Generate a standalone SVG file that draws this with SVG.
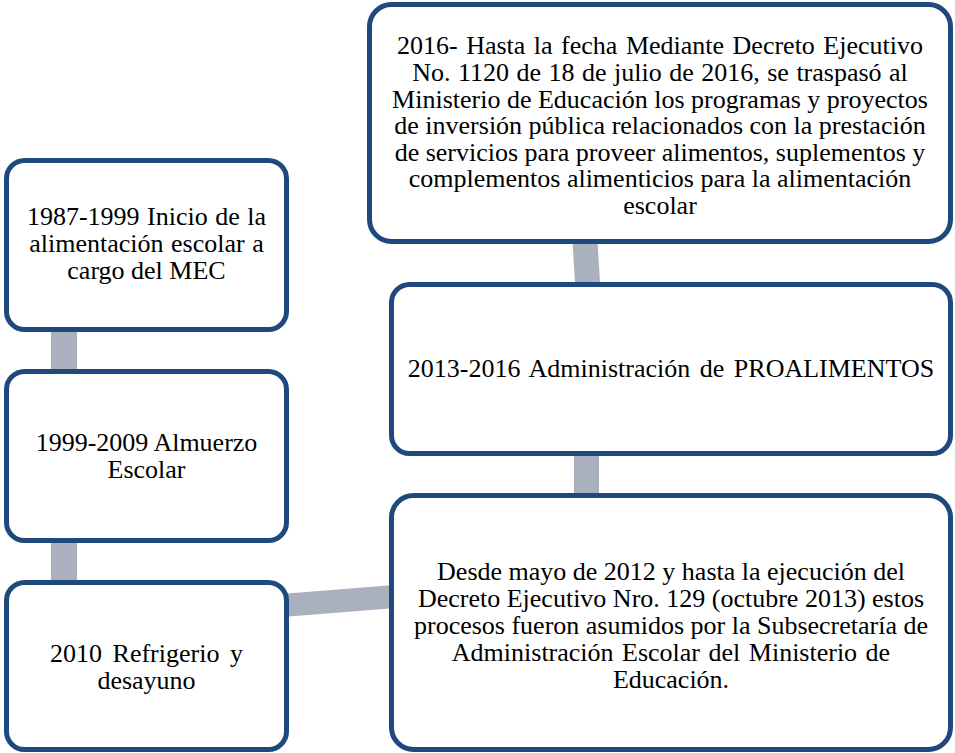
<svg xmlns="http://www.w3.org/2000/svg" width="955" height="753" viewBox="0 0 955 753">
<style>
.box{fill:#ffffff;stroke:#1f497d;stroke-width:5}
.con{stroke:#aab0bd;fill:none;stroke-linecap:butt}
.t{font-family:'Liberation Serif','Times New Roman',Tinos,'DejaVu Serif',serif;font-size:26px;fill:#000000;text-anchor:middle}
</style>
<rect width="955" height="753" fill="#ffffff"/>
<g id="connectors">
<line class="con" x1="64" y1="325" x2="64" y2="376" stroke-width="26"/>
<line class="con" x1="64" y1="536" x2="64" y2="587" stroke-width="26"/>
<line class="con" x1="285" y1="605.3" x2="395" y2="596.5" stroke-width="23"/>
<line class="con" x1="584.8" y1="238" x2="587.8" y2="288" stroke-width="25"/>
<line class="con" x1="586.5" y1="450" x2="586.5" y2="499" stroke-width="25"/>
</g>
<g id="node1">
<rect class="box" x="6.5" y="160.5" width="280" height="169" rx="18"/>
<text class="t" x="146.5" y="225" word-spacing="1">1987-1999 Inicio de la</text>
<text class="t" x="146.5" y="252" word-spacing="1">alimentación escolar a</text>
<text class="t" x="146.5" y="279">cargo del MEC</text>
</g>
<g id="node2">
<rect class="box" x="6.5" y="371.5" width="280" height="169" rx="18"/>
<text class="t" x="146.5" y="451">1999-2009 Almuerzo</text>
<text class="t" x="146.5" y="478">Escolar</text>
</g>
<g id="node3">
<rect class="box" x="6.5" y="582.5" width="280" height="167" rx="18"/>
<text class="t" x="146.5" y="661.5" word-spacing="4">2010 Refrigerio y</text>
<text class="t" x="146.5" y="688.5">desayuno</text>
</g>
<g id="node4">
<rect class="box" x="391.5" y="495.5" width="559" height="254" rx="22"/>
<text class="t" x="671" y="579.5">Desde mayo de 2012 y hasta la ejecución del</text>
<text class="t" x="671" y="606.5">Decreto Ejecutivo Nro. 129 (octubre 2013) estos</text>
<text class="t" x="671" y="633.5">procesos fueron asumidos por la Subsecretaría de</text>
<text class="t" x="671" y="660.5" word-spacing="2">Administración Escolar del Ministerio de</text>
<text class="t" x="671" y="687.5">Educación.</text>
</g>
<g id="node5">
<rect class="box" x="391.5" y="284.5" width="559" height="169" rx="18"/>
<text class="t" x="671" y="377" word-spacing="3">2013-2016 Administración de PROALIMENTOS</text>
</g>
<g id="node6">
<rect class="box" x="369.5" y="4.5" width="581" height="237" rx="22"/>
<text class="t" x="660" y="53.5" word-spacing="2">2016- Hasta la fecha Mediante Decreto Ejecutivo</text>
<text class="t" x="660" y="80.5" word-spacing="1">No. 1120 de 18 de julio de 2016, se traspasó al</text>
<text class="t" x="660" y="107.5">Ministerio de Educación los programas y proyectos</text>
<text class="t" x="660" y="134">de inversión pública relacionados con la prestación</text>
<text class="t" x="660" y="160.5">de servicios para proveer alimentos, suplementos y</text>
<text class="t" x="660" y="187">complementos alimenticios para la alimentación</text>
<text class="t" x="660" y="213.5">escolar</text>
</g>
</svg>
